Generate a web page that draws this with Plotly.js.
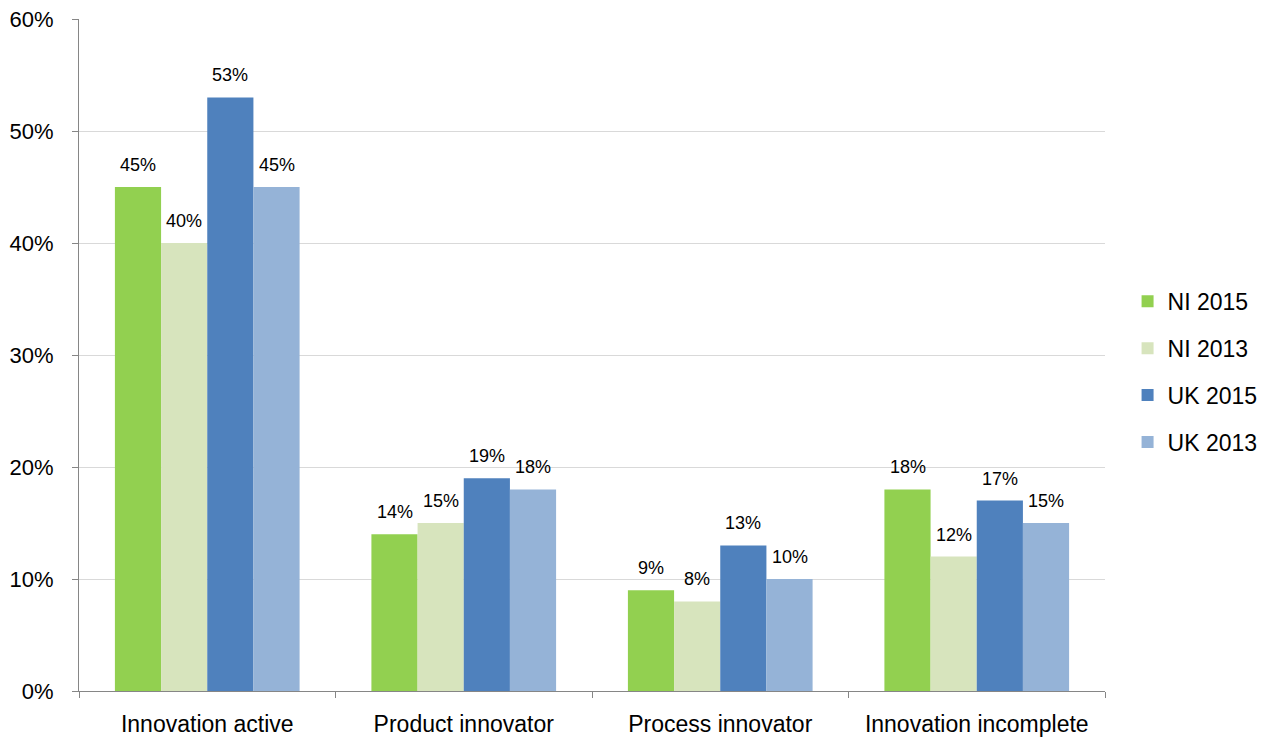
<!DOCTYPE html>
<html>
<head>
<meta charset="utf-8">
<script src="https://cdn.plot.ly/plotly-3.0.1.min.js"></script>
<style>html,body{margin:0;padding:0;background:#fff;}#chart{width:1272px;height:744px;}</style>
</head>
<body>
<div id="chart"></div>
<script>
const categories = ["Innovation active", "Product innovator", "Process innovator", "Innovation incomplete"];
const seriesNames = ["NI 2015", "NI 2013", "UK 2015", "UK 2013"];
const ni2015 = [0.45, 0.14, 0.09, 0.18];
const ni2013 = [0.40, 0.15, 0.08, 0.12];
const uk2015 = [0.53, 0.19, 0.13, 0.17];
const uk2013 = [0.45, 0.18, 0.10, 0.15];
const colors = ["#92d050", "#d7e4bd", "#4f81bd", "#95b3d7"];
const values = [ni2015, ni2013, uk2015, uk2013];

const FONT = "Liberation Sans, Arial, sans-serif";
const BARGAP = 0.28;
const nSeries = values.length;
const barW = (1 - BARGAP) / nSeries;

const traces = values.map((v, i) => ({
  type: "bar",
  name: seriesNames[i],
  x: categories,
  y: v,
  marker: {color: colors[i], line: {width: 0}},
  legendgroup: "g" + i,
  hoverinfo: "skip"
}));

// data labels placed above each bar, via axis coordinates
const annotations = [];
values.forEach((v, i) => {
  const off = (i - (nSeries - 1) / 2) * barW;
  v.forEach((val, c) => {
    annotations.push({
      x: c + off, y: val, xref: "x", yref: "y",
      text: Math.round(val * 100) + "%",
      showarrow: false, yanchor: "bottom", yshift: 10,
      font: {family: FONT, size: 18, color: "#000"}
    });
  });
});

const layout = {
  width: 1272, height: 744,
  margin: {l: 79, r: 167, t: 19, b: 53, autoexpand: false},
  paper_bgcolor: "#fff", plot_bgcolor: "#fff",
  barmode: "group",
  bargap: BARGAP, bargroupgap: 0,
  font: {family: FONT, color: "#000"},
  xaxis: {
    showline: true, linecolor: "#868686", linewidth: 1,
    ticks: "outside", tickson: "boundaries", ticklen: 6, tickcolor: "#868686",
    tickfont: {size: 23, family: FONT},
    ticklabelstandoff: 12,
    showgrid: false
  },
  yaxis: {
    range: [0, 0.6], dtick: 0.1, tickformat: ".0%",
    showline: true, linecolor: "#868686", linewidth: 1,
    ticks: "outside", ticklen: 6, tickcolor: "#868686",
    gridcolor: "#d9d9d9", gridwidth: 1,
    zeroline: false,
    ticklabelstandoff: 14,
    tickfont: {size: 22, family: FONT}
  },
  annotations: annotations,
  showlegend: true,
  legend: {
    x: 1.022, xanchor: "left", y: 0.475, yanchor: "middle",
    font: {size: 23, family: FONT},
    traceorder: "grouped", tracegroupgap: 14,
    itemwidth: 30
  }
};

Plotly.newPlot("chart", traces, layout, {displayModeBar: false, staticPlot: true});
</script>
</body>
</html>
